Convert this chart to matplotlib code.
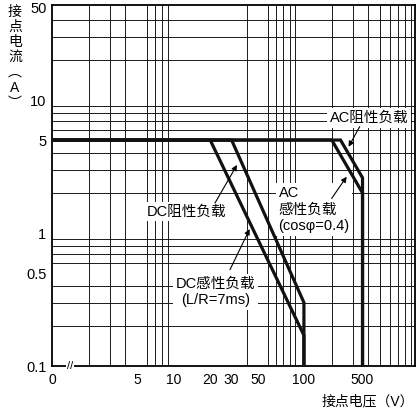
import matplotlib
matplotlib.use("Agg")
import matplotlib.pyplot as plt
from matplotlib.ticker import LogLocator, NullFormatter, FixedLocator, FixedFormatter

plt.rcParams["font.family"] = ["Liberation Sans", "Noto Sans CJK SC"]

# 触点额定曲线 (x 为图纸上的电压刻度位置, y 为电流 A)
dc_ind_v = [1, 20, 118, 118]
dc_ind_a = [5, 5, 0.17, 0.1]
dc_res_v = [1, 30, 118, 118]
dc_res_a = [5, 5, 0.3, 0.1]
ac_ind_v = [1, 200, 358, 358]
ac_ind_a = [5, 5, 2.0, 0.1]
ac_res_v = [1, 236, 358, 358]
ac_res_a = [5, 5, 2.6, 0.1]

x_tick_pos = [1, 5, 10, 20, 30, 50, 118, 358]
x_tick_labels = ["0", "5", "10", "20", "30", "50", "100", "500"]
y_ticks = [0.1, 0.5, 1, 5, 10, 50]
y_tick_labels = ["0.1", "0.5", "1", "5", "10", "50"]

# 标注: 文本, 文本位置, 箭头尾, 箭头头
labels = [
    ("DC阻性负载", (12.7, 1.45), (21.9, 1.68), (33.2, 3.25), "center"),
    ("DC感性负载\n(L/R=7ms)", (22.1, 0.36), (29.1, 0.53), (42.2, 1.07), "center"),
    ("AC阻性负载", (404, 7.3), (339, 6.3), (275, 4.45), "center"),
    ("AC\n感性负载\n(cosφ=0.4)", (72.9, 1.5), (199.6, 1.82), (265, 2.65), "left"),
]

fig = plt.figure(figsize=(4.16, 4.18), dpi=100)
ax = fig.add_axes([52 / 416, 1 - 366 / 418, 363 / 416, 361 / 418])
ax.set_xscale("log")
ax.set_yscale("log")
ax.set_xlim(1, 967)
ax.set_ylim(0.1, 51.8)

# 网格
ax.xaxis.set_minor_locator(LogLocator(base=10, subs=range(1, 10), numticks=60))
ax.yaxis.set_minor_locator(LogLocator(base=10, subs=range(1, 10), numticks=60))
ax.xaxis.set_minor_formatter(NullFormatter())
ax.yaxis.set_minor_formatter(NullFormatter())
ax.grid(False, which="major")
ax.grid(True, which="minor", color="#1a1a1a", linewidth=0.7)
ax.set_axisbelow(True)

ax.xaxis.set_major_locator(FixedLocator(x_tick_pos))
ax.xaxis.set_major_formatter(FixedFormatter(x_tick_labels))
ax.yaxis.set_major_locator(FixedLocator(y_ticks))
ax.yaxis.set_major_formatter(FixedFormatter(y_tick_labels))
ax.tick_params(which="both", length=0)
ax.tick_params(axis="x", pad=5, labelsize=10)
ax.tick_params(axis="y", pad=4, labelsize=10.5)

for sp in ax.spines.values():
    sp.set_linewidth(1.3)
    sp.set_color("black")

for xs, ys in [(dc_ind_v, dc_ind_a), (dc_res_v, dc_res_a),
               (ac_ind_v, ac_ind_a), (ac_res_v, ac_res_a)]:
    ax.plot(xs, ys, color="#111111", linewidth=2.3, zorder=4,
            solid_joinstyle="miter", solid_capstyle="butt")

for txt, pos, tail, head, align in labels:
    ax.text(pos[0], pos[1], txt, ha=align, va="center", multialignment=align,
            fontsize=10.5, linespacing=1.25, zorder=3,
            bbox=dict(facecolor="white", edgecolor="none", pad=2))
    ax.annotate("", xy=head, xytext=tail, zorder=5,
                arrowprops=dict(arrowstyle="-|>", color="black", lw=0.8,
                                mutation_scale=8, shrinkA=0, shrinkB=0))

# 坐标轴断裂符号
ax.text(0.05, 0, "//", transform=ax.transAxes, ha="center", va="center",
        fontsize=8, clip_on=False, zorder=6,
        bbox=dict(facecolor="white", edgecolor="none", pad=0.5))

fig.text(15 / 416, 1 - 5 / 418, "接\n点\n电\n流\n︵\nA\n︶", ha="center", va="top",
         fontsize=10, linespacing=1.1)
fig.text(368 / 416, 1 - 401 / 418, "接点电压（V）", ha="center", va="center",
         fontsize=10)

fig.savefig("out.png", dpi=100)
